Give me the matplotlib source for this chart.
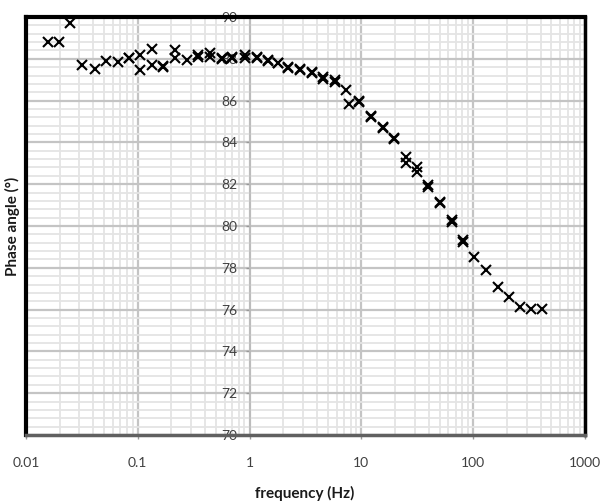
import matplotlib
matplotlib.use("Agg")
import matplotlib.pyplot as plt
from matplotlib.ticker import LogLocator, MultipleLocator, FixedLocator, FixedFormatter
import numpy as np

# series 1 (frequency in Hz, phase angle in degrees)
freq_a = [0.0158, 0.0199, 0.025, 0.032, 0.041, 0.052, 0.066, 0.083, 0.105, 0.133,
          0.169, 0.215, 0.273, 0.348, 0.443, 0.562, 0.69, 0.91, 1.16, 1.47,
          1.81, 2.22, 2.82, 3.59, 4.58, 5.83, 7.3, 9.58, 12.2, 15.6,
          19.6, 25.1, 31.3, 39.7, 50.5, 64.3, 81.5, 101.6, 130, 166,
          209, 262, 327, 415]
phase_a = [88.82, 88.82, 89.70, 87.70, 87.50, 87.89, 87.86, 88.02, 88.18, 88.45,
           87.59, 88.42, 87.94, 88.18, 88.26, 88.02, 88.10, 88.18, 88.10, 87.94,
           87.78, 87.62, 87.51, 87.38, 87.14, 86.99, 86.50, 85.95, 85.23, 84.70,
           84.20, 83.32, 82.84, 81.88, 81.16, 80.29, 79.25, 78.53, 77.89, 77.07,
           76.62, 76.14, 76.01, 76.01]

# series 2 (repeat measurement, overlapping)
freq_b = [0.083, 0.105, 0.133, 0.169, 0.215, 0.348, 0.443, 0.562, 0.69, 0.91,
          1.16, 1.47, 1.81, 2.22, 2.82, 3.59, 4.58, 5.83, 7.75, 9.5,
          12.2, 15.6, 19.6, 25.1, 31.3, 39.7, 50.5, 64.3, 81.5]
phase_b = [88.06, 87.46, 87.70, 87.65, 88.02, 88.10, 88.10, 87.98, 88.02, 88.05,
           88.02, 87.90, 87.82, 87.58, 87.46, 87.30, 87.05, 86.90, 85.85, 86.00,
           85.28, 84.75, 84.16, 83.00, 82.58, 81.95, 81.12, 80.21, 79.35]

x_ticks = [0.01, 0.1, 1, 10, 100, 1000]
x_labels = ["0.01", "0.1", "1", "10", "100", "1000"]
y_ticks = list(range(70, 91, 2))

plt.rcParams["font.family"] = ["Lato", "DejaVu Sans"]

fig = plt.figure(figsize=(6.01, 5.03), dpi=100)
ax = fig.add_axes([26 / 601, 68 / 503, 559 / 601, 418 / 503])

ax.set_xscale("log")
ax.set_xlim(0.01, 1000)
ax.set_ylim(70, 90)

# grid
ax.xaxis.set_major_locator(FixedLocator(x_ticks))
ax.xaxis.set_major_formatter(FixedFormatter(x_labels))
ax.xaxis.set_minor_locator(LogLocator(base=10, subs=np.arange(2, 10), numticks=20))
ax.xaxis.set_minor_formatter(FixedFormatter([]))
ax.yaxis.set_major_locator(FixedLocator(y_ticks))
ax.yaxis.set_minor_locator(MultipleLocator(0.4))
ax.grid(True, which="major", color="#c4c4c4", lw=1.6, zorder=0)
ax.grid(True, which="minor", color="#e4e4e4", lw=1.3, zorder=0)
ax.set_axisbelow(True)

ax.plot(freq_a, phase_a, ls="none", marker="x", ms=7.5, mew=1.5, color="black", zorder=3)
ax.plot(freq_b, phase_b, ls="none", marker="x", ms=7.5, mew=1.5, color="black", zorder=3)

# y axis crosses at 1 Hz
for s in ["top", "right", "bottom"]:
    ax.spines[s].set_visible(False)
ax.spines["left"].set_position(("data", 1))
ax.spines["left"].set_color("#bbbbbb")
ax.spines["left"].set_linewidth(1.2)

ax.tick_params(axis="y", which="major", length=3, width=1, color="#999999",
               pad=6, labelsize=10, labelcolor="#404040")
ax.tick_params(axis="y", which="minor", length=0)
ax.tick_params(axis="x", which="major", length=3, width=1, color="#999999",
               pad=13, labelsize=10, labelcolor="#404040")
ax.tick_params(axis="x", which="minor", length=0)

# frame
ax.plot([0, 0], [0, 1], transform=ax.transAxes, color="black", lw=3, clip_on=False, zorder=4)
ax.plot([0, 1], [1, 1], transform=ax.transAxes, color="black", lw=3, clip_on=False, zorder=4)
ax.plot([1, 1], [0, 1], transform=ax.transAxes, color="black", lw=2.5, clip_on=False, zorder=4)
ax.plot([0, 1], [0, 0], transform=ax.transAxes, color="#606060", lw=2.5, clip_on=False, zorder=4)

for lab in ax.get_yticklabels():
    lab.set_zorder(6)

fig.text(12 / 601, 1 - 226 / 503, "Phase angle (°)", fontsize=11, fontweight="bold",
         color="#1a1a1a", ha="center", va="center", rotation=90)
fig.text(305 / 601, 1 - 493 / 503, "frequency (Hz)", fontsize=11, fontweight="bold",
         color="#1a1a1a", ha="center", va="center")

fig.savefig("out.png", dpi=100)
